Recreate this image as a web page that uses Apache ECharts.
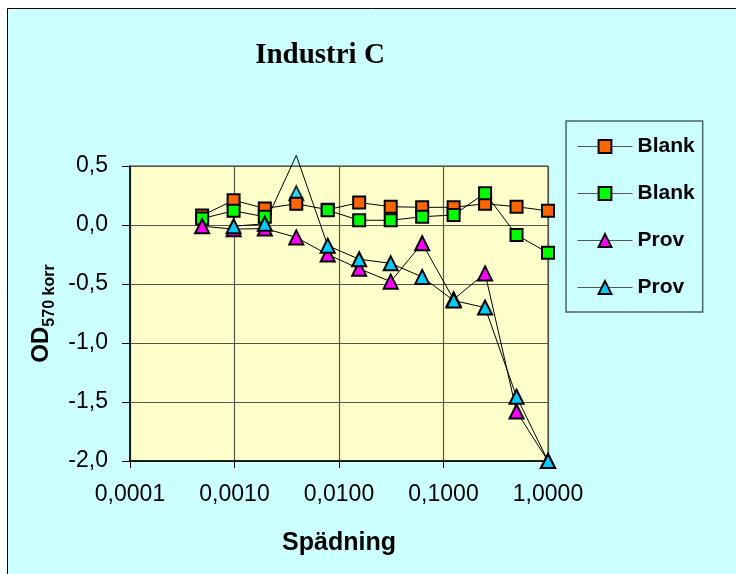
<!DOCTYPE html>
<html>
<head>
<meta charset="utf-8">
<script src="https://cdn.jsdelivr.net/npm/echarts@6/dist/echarts.min.js"></script>
<style>
  html, body { margin: 0; padding: 0; background: #ffffff; }
  #chart { width: 736px; height: 574px; }
</style>
</head>
<body>
<div id="chart"></div>
<script>
// Dilution steps (x) and OD570 korr readings per series
const dilution = [0.00049, 0.00098, 0.00195, 0.0039, 0.0078, 0.0156, 0.03125, 0.0625, 0.125, 0.25, 0.5, 1];
const blankA = [0.08, 0.21, 0.14, 0.18, 0.13, 0.19, 0.155, 0.15, 0.15, 0.18, 0.155, 0.12];
const blankB = [0.055, 0.12, 0.07, null, 0.125, 0.04, 0.04, 0.07, 0.085, 0.27, -0.085, -0.235];
const provA = [-0.01, -0.035, -0.03, -0.105, -0.25, -0.37, -0.48, -0.155, -0.63, -0.41, -1.58, -2.0];
const provB = [null, -0.01, 0.01, 0.59, -0.175, -0.29, -0.325, -0.44, -0.64, -0.70, -1.455, -2.0];
const provBExtra = [[0.0039, 0.27]];

const seriesNames = ['Blank#1', 'Blank#2', 'Prov#1', 'Prov#2'];
const xTicks = ['0,0001', '0,0010', '0,0100', '0,1000', '1,0000'];

const Y_MIN = -2.0, Y_MAX = 0.5;

function pairs(values) {
  return dilution.map((x, i) => {
    const v = values[i];
    if (v === null) return [x, null];
    // values beyond the axis top keep the line but draw no marker
    if (v > Y_MAX) return { value: [x, v], symbol: 'none' };
    return [x, v];
  });
}

function lineSeries(name, values, symbol, size, color) {
  return {
    name: name,
    type: 'line',
    data: pairs(values),
    symbol: symbol,
    symbolSize: size,
    showAllSymbol: true,
    connectNulls: false,
    clip: false,
    lineStyle: { color: '#000000', width: 1 },
    itemStyle: { color: color, borderColor: '#000000', borderWidth: 2 },
    emphasis: { disabled: true },
    animation: false
  };
}

const chart = echarts.init(document.getElementById('chart'), null, { renderer: 'canvas' });

chart.setOption({
  backgroundColor: '#ffffff',
  animation: false,
  graphic: [{
    type: 'rect',
    shape: { x: 7.5, y: 8.5, width: 740, height: 580 },
    style: { fill: '#ccffff', stroke: '#000000', lineWidth: 1 },
    z: -10
  }],
  title: {
    text: 'Industri C',
    left: 315,
    textAlign: 'center',
    top: 36,
    textStyle: { fontFamily: 'Liberation Serif', fontWeight: 'bold', fontSize: 29, color: '#000000' }
  },
  grid: {
    left: 130, right: 188, top: 166, bottom: 113,
    show: true,
    backgroundColor: '#ffffcc',
    borderColor: '#333333',
    borderWidth: 1
  },
  legend: {
    orient: 'vertical',
    left: 566,
    top: 121,
    padding: [15, 8, 14, 11],
    itemWidth: 55,
    itemHeight: 16,
    itemGap: 26,
    backgroundColor: '#ccffff',
    borderColor: '#4d6666',
    borderWidth: 1.5,
    data: seriesNames,
    formatter: n => n.split('#')[0],
    lineStyle: { color: '#555555', width: 1 },
    textStyle: { fontFamily: 'Liberation Sans', fontWeight: 'bold', fontSize: 21, color: '#000000' }
  },
  xAxis: {
    type: 'log',
    logBase: 10,
    min: 0.0001,
    max: 1,
    name: 'Spädning',
    nameLocation: 'middle',
    nameGap: 70,
    nameTextStyle: { fontFamily: 'Liberation Sans', fontWeight: 'bold', fontSize: 25, color: '#000000' },
    axisLine: { onZero: false, lineStyle: { color: '#000000', width: 1.5 } },
    axisTick: { show: true, length: 7, lineStyle: { color: '#000000' } },
    axisLabel: {
      margin: 22,
      fontFamily: 'Liberation Sans', fontSize: 23, color: '#000000',
      formatter: (v) => xTicks[Math.round(Math.log10(v) + 4)]
    },
    splitLine: { show: true, lineStyle: { color: '#55554a', width: 1.2 } },
    minorTick: { show: false }
  },
  yAxis: {
    type: 'value',
    min: Y_MIN,
    max: Y_MAX,
    interval: 0.5,
    name: '{a|OD}{b|570 korr}',
    nameLocation: 'middle',
    nameRotate: 90,
    nameGap: 76,
    nameTextStyle: {
      rich: {
        a: { fontFamily: 'Liberation Sans', fontWeight: 'bold', fontSize: 24, color: '#000000', lineHeight: 28, verticalAlign: 'bottom' },
        b: { fontFamily: 'Liberation Sans', fontWeight: 'bold', fontSize: 16, color: '#000000', lineHeight: 28, verticalAlign: 'bottom', padding: [0, 0, -4, 0] }
      }
    },
    axisLine: { show: true, lineStyle: { color: '#000000', width: 1.5 } },
    axisTick: { show: true, length: 8, lineStyle: { color: '#000000' } },
    axisLabel: {
      margin: 22,
      fontFamily: 'Liberation Sans', fontSize: 23, color: '#000000',
      formatter: (v) => v.toFixed(1).replace('.', ',')
    },
    splitLine: { show: true, lineStyle: { color: '#55554a', width: 1.2 } }
  },
  series: [
    lineSeries(seriesNames[0], blankA, 'rect', 12, '#ff6600'),
    lineSeries(seriesNames[1], blankB, 'rect', 12, '#00ff00'),
    lineSeries(seriesNames[2], provA, 'triangle', 14, '#ff00ff'),
    lineSeries(seriesNames[3], provB, 'triangle', 14, '#00ccff'),
    {
      name: seriesNames[3],
      type: 'scatter',
      data: provBExtra,
      symbol: 'triangle',
      symbolSize: 14,
      itemStyle: { color: '#00ccff', borderColor: '#000000', borderWidth: 2 },
      emphasis: { disabled: true },
      animation: false
    }
  ]
});
</script>
</body>
</html>
